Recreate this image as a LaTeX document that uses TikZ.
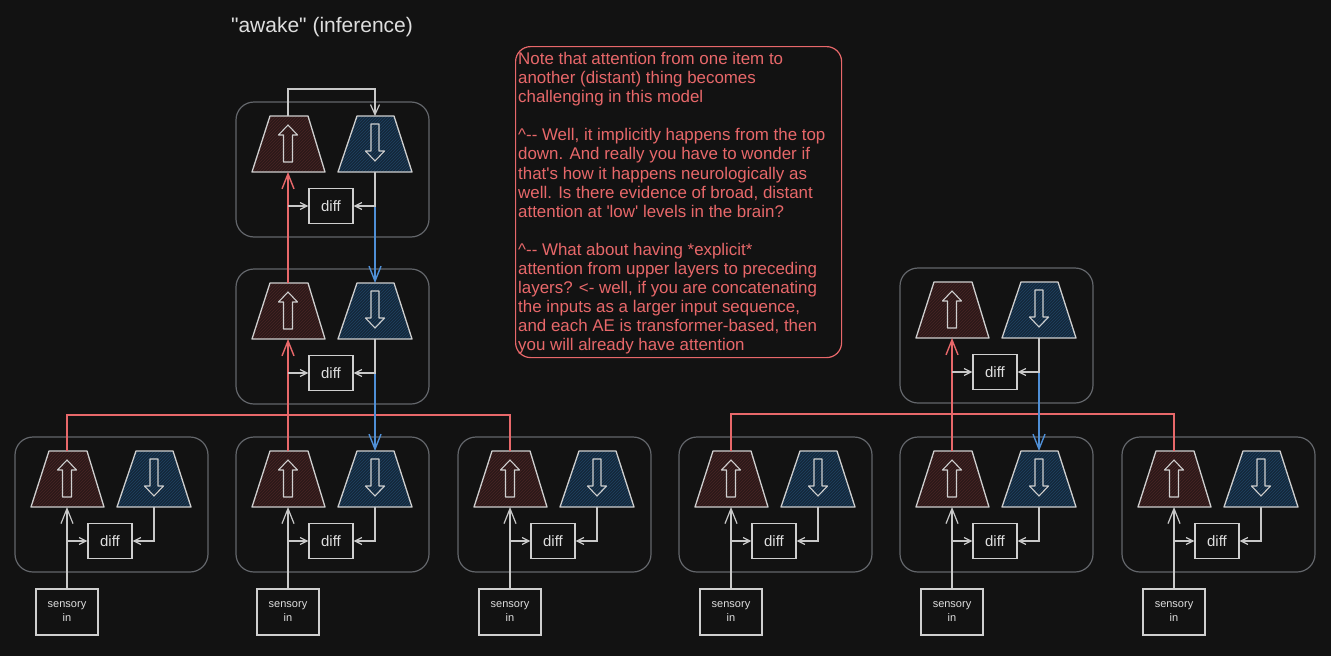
\documentclass[tikz,border=0pt]{standalone}
\usepackage{fontspec}
\setmainfont{Liberation Sans}
\usetikzlibrary{arrows.meta,patterns}
\definecolor{bg}{HTML}{121212}
\definecolor{modgray}{HTML}{63666B}
\definecolor{trapgray}{HTML}{CFCFCF}
\definecolor{wiregray}{HTML}{C8C8C8}
\definecolor{textgray}{HTML}{DEDEDE}
\definecolor{redc}{HTML}{E8686A}
\definecolor{bluec}{HTML}{4F8FD6}
\definecolor{upfill}{HTML}{2B1919}
\definecolor{uphatch}{HTML}{482424}
\definecolor{downfill}{HTML}{14273A}
\definecolor{downhatch}{HTML}{1F4262}
\tikzset{
  modbox/.style={draw=modgray, line width=1.2pt, rounded corners=18pt},
  trapline/.style={draw=trapgray, line width=1.3pt, line join=round},
  blockarr/.style={draw=trapgray, line width=1.1pt, line join=round},
  bigtip/.style={-{Straight Barb[length=15pt,width=12pt]}},
  looptip/.style={-{Straight Barb[length=10pt,width=9pt]}},
  smalltip/.style={-{Straight Barb[length=7pt,width=7pt]}},
  redwire/.style={draw=redc, line width=1.4pt},
  bluewire/.style={draw=bluec, line width=1.4pt},
  graywire/.style={draw=wiregray, line width=1.2pt},
  diffbox/.style={draw=trapgray, line width=1.2pt, minimum width=44pt, minimum height=35pt, inner sep=0pt, font=\fontsize{15}{15}\selectfont, text=textgray},
  sensbox/.style={draw=trapgray, line width=1.2pt, minimum width=62pt, minimum height=46pt, align=center, inner sep=0pt, font=\fontsize{11}{14}\selectfont, text=textgray},
}
\newcommand\aemodule[3]{%
  \begin{scope}[shift={(#2,#3)}]
    \draw[modbox] (0,0) rectangle (193,135);
    \fill[upfill] (34,14) -- (72,14) -- (89,70) -- (16,70) -- cycle;
    \fill[pattern=north east lines, pattern color=uphatch] (34,14) -- (72,14) -- (89,70) -- (16,70) -- cycle;
    \draw[trapline] (34,14) -- (72,14) -- (89,70) -- (16,70) -- cycle;
    \fill[downfill] (121,14) -- (158,14) -- (176,70) -- (102,70) -- cycle;
    \fill[pattern=north east lines, pattern color=downhatch] (121,14) -- (158,14) -- (176,70) -- (102,70) -- cycle;
    \draw[trapline] (121,14) -- (158,14) -- (176,70) -- (102,70) -- cycle;
    \draw[blockarr] (52,23) -- (61.5,33) -- (56.5,33) -- (56.5,60) -- (47.5,60) -- (47.5,33) -- (42.5,33) -- cycle;
    \draw[blockarr] (139,59) -- (148.5,49) -- (143,49) -- (143,22) -- (135,22) -- (135,49) -- (129.5,49) -- cycle;
    \coordinate (#1-ut) at (52,14);
    \coordinate (#1-ub) at (52,70);
    \coordinate (#1-dt) at (139,14);
    \coordinate (#1-db) at (139,70);
    \node[diffbox] (#1-diff) at (95,104) {diff};
  \end{scope}}
\newcommand\aewires[1]{%
  \draw[graywire,smalltip] (#1-ub |- #1-diff) -- (#1-diff.west);
  \draw[graywire,smalltip] (#1-db) |- (#1-diff.east);}
\begin{document}
\begin{tikzpicture}[x=1pt,y=-1pt]
  \useasboundingbox (0,0) rectangle (1331,656);
  \fill[bg] (0,0) rectangle (1331,656);

  \node[text=textgray, font=\fontsize{21}{24}\selectfont] (title) at (322,27) {\textquotedbl awake\textquotedbl\ (inference)};

  \aemodule{T}{236}{102}
  \aemodule{L}{236}{269}
  \aemodule{R}{900}{268}
  \aemodule{A}{15}{437}
  \aemodule{B}{236}{437}
  \aemodule{C}{458}{437}
  \aemodule{D}{679}{437}
  \aemodule{E}{900}{437}
  \aemodule{F}{1122}{437}

  \node[sensbox] (sA) at (67,612) {sensory\\in};
  \node[sensbox] (sB) at (288,612) {sensory\\in};
  \node[sensbox] (sC) at (510,612) {sensory\\in};
  \node[sensbox] (sD) at (731,612) {sensory\\in};
  \node[sensbox] (sE) at (952,612) {sensory\\in};
  \node[sensbox] (sF) at (1174,612) {sensory\\in};

  \foreach \m in {A,B,C,D,E,F}{\draw[graywire,bigtip] (s\m) -- (\m-ub);}

  \coordinate (busL) at (0,415);
  \coordinate (busR) at (0,414);
  \draw[redwire] (A-ut) |- (C-ut |- busL) -- (C-ut);
  \draw[redwire,bigtip] (B-ut) -- (L-ub);
  \draw[redwire,bigtip] (L-ut) -- (T-ub);
  \draw[redwire] (D-ut) |- (F-ut |- busR) -- (F-ut);
  \draw[redwire,bigtip] (E-ut) -- (R-ub);

  \draw[bluewire,bigtip] (T-db) -- (L-dt);
  \draw[bluewire,bigtip] (L-db) -- (B-dt);
  \draw[bluewire,bigtip] (R-db) -- (E-dt);

  \draw[graywire,looptip] (T-ut) -- ++(0,-27) -| (T-dt);

  \foreach \m in {T,L,R,A,B,C,D,E,F}{\aewires{\m}}

  \node[draw=redc, line width=1.2pt, rounded corners=15pt, minimum width=326pt, minimum height=311pt, anchor=north west, inner sep=0pt] (note) at (515,46) {};
  \node[anchor=north west, inner sep=0pt, align=left, text=redc, font=\fontsize{16.9}{19.1}\selectfont] (notetext) at (518,52) {Note that attention from one item to\\
another (distant) thing becomes\\
challenging in this model\\[19.1pt]
\textasciicircum-{}- Well, it implicitly happens from the top\\
down. And really you have to wonder if\\
that\textquotesingle s how it happens neurologically as\\
well. Is there evidence of broad, distant\\
attention at \textquotesingle low\textquotesingle\ levels in the brain?\\[19.1pt]
\textasciicircum-{}- What about having *explicit*\\
attention from upper layers to preceding\\
layers? <- well, if you are concatenating\\
the inputs as a larger input sequence,\\
and each AE is transformer-based, then\\
you will already have attention};
\end{tikzpicture}
\end{document}
